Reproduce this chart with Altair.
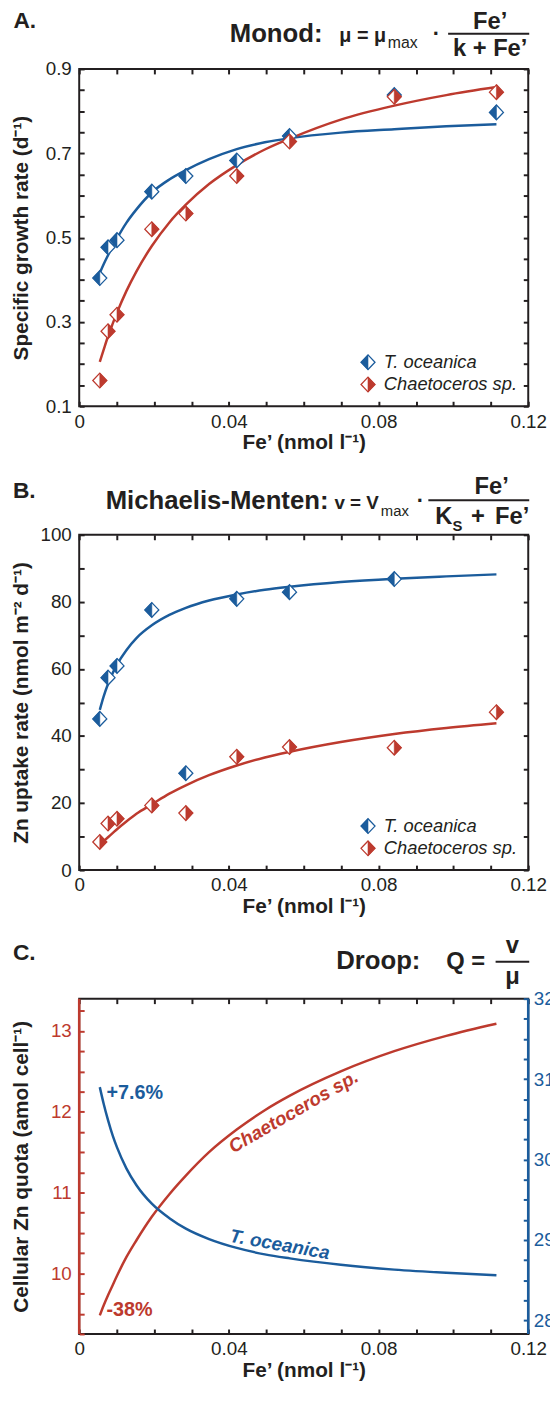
import altair as alt
import pandas as pd

FONT = "Liberation Sans"
INK = "#231f20"
BLUE = "#1b5c9c"
RED = "#bd3a2e"

W = 454
HA, HB, HC = 341, 339, 339
GAP = 130

SPECIES = ["T. oceanica", "Chaetoceros sp."]

# ---------------- data ----------------
# Fe' of the cultures (nmol l-1)
fe_pts = [0.0055, 0.0077, 0.0101, 0.0194, 0.0285, 0.0421, 0.0562, 0.0842, 0.1115]

# A. specific growth rate (d-1)
mu_toc = [0.404, 0.477, 0.494, 0.609, 0.646, 0.683, 0.741, 0.838, 0.797]
mu_cha = [0.161, 0.278, 0.317, 0.520, 0.557, 0.646, 0.728, 0.834, 0.845]

# B. Zn uptake rate (nmol m-2 d-1)
fe_pts_b_toc = [0.0055, 0.0077, 0.0101, 0.0194, 0.0285, 0.0421, 0.0562, 0.0842]
v_toc = [45.1, 57.4, 60.9, 77.6, 28.9, 80.9, 82.9, 86.8]
v_cha = [8.4, 13.9, 15.3, 19.3, 17.0, 33.8, 36.7, 36.5, 47.1]

# fitted curves, read along Fe'
fe_fit = [0.0055, 0.0065, 0.0077, 0.009, 0.0101, 0.0126, 0.0153, 0.0194, 0.0241,
          0.0285, 0.0347, 0.0421, 0.0496, 0.0563, 0.0699, 0.0842, 0.0981, 0.1115]
mu_fit_toc = [0.416, 0.436, 0.458, 0.480, 0.498, 0.535, 0.567, 0.607, 0.638,
              0.660, 0.686, 0.710, 0.726, 0.736, 0.749, 0.757, 0.764, 0.769]
mu_fit_cha = [0.205, 0.233, 0.266, 0.297, 0.322, 0.373, 0.420, 0.480, 0.536,
              0.578, 0.627, 0.672, 0.709, 0.735, 0.780, 0.813, 0.838, 0.857]
v_fit_toc = [47.8, 51.7, 55.5, 58.9, 61.3, 65.6, 69.2, 73.0, 76.1,
             78.2, 80.4, 82.2, 83.6, 84.5, 85.9, 86.9, 87.6, 88.2]
v_fit_cha = [7.6, 8.6, 9.8, 11.1, 12.2, 14.5, 16.8, 19.6, 22.8,
             25.3, 28.3, 31.2, 33.6, 35.3, 38.2, 40.6, 42.4, 43.8]
# C. Droop quota: Chaetoceros (left axis) and T. oceanica (right axis)
q_fit_cha = [9.48, 9.60, 9.73, 9.86, 9.97, 10.20, 10.41, 10.70, 10.98,
             11.21, 11.50, 11.78, 12.02, 12.20, 12.50, 12.75, 12.94, 13.09]
q_fit_toc = [30.90, 30.70, 30.49, 30.29, 30.15, 29.89, 29.68, 29.45, 29.27,
             29.14, 29.01, 28.90, 28.82, 28.77, 28.69, 28.63, 28.59, 28.56]

# tick values
x_ticks = [round(i * 0.01, 2) for i in range(13)]
a_ticks = [round(0.1 + 0.05 * i, 2) for i in range(17)]
b_ticks = [10 * i for i in range(11)]
c_left_ticks = [9.25 + 0.25 * i for i in range(17)]
c_right_ticks = [28 + 0.25 * i for i in range(17)]

X_LABELS = "round(datum.value * 100) % 4 === 0 ? datum.label : ''"
A_LABELS = "round(datum.value * 100) % 20 === 10 ? datum.label : ''"
B_LABELS = "datum.value % 20 === 0 ? datum.label : ''"
INT_LABELS = "datum.value % 1 === 0 ? datum.label : ''"

DIAMOND = "M0,-1.05L1,0L0,1.05L-1,0Z"
LEFT = "M0,-1.05L-1,0L0,1.05Z"
RIGHT = "M0,-1.05L1,0L0,1.05Z"
SIZE = 200

xscale = alt.Scale(domain=[0, 0.12], nice=False, zero=False)


def axis(orient, values, fmt, label_expr=None, labels=True, title=None, color=INK,
         label_padding=6, title_x=None, title_y=None, h=None):
    kw = dict(orient=orient, values=values, labels=labels, domain=False, grid=False,
              ticks=True, tickSize=5, tickWidth=2, tickColor=color, offset=-5,
              labelFont=FONT, labelFontSize=19, labelColor=color,
              labelPadding=label_padding, labelOverlap=False, labelFlush=False,
              format=fmt, title=title)
    if label_expr:
        kw["labelExpr"] = label_expr
    if title:
        kw.update(titleFont=FONT, titleFontSize=21, titleFontWeight="bold",
                  titleColor=INK, titleBaseline="alphabetic")
        if title_x is not None:
            kw.update(titleX=title_x, titleY=h / 2, titleAngle=270, titleAlign="center")
        if title_y is not None:
            kw.update(titleY=title_y)
    return alt.Axis(**kw)


def curve(vals, color, yscale, xaxis=None, yaxis=None):
    df = pd.DataFrame({"fe": fe_fit, "val": vals})
    return alt.Chart(df).mark_line(color=color, strokeWidth=2.5, interpolate="monotone").encode(
        x=alt.X("fe:Q", scale=xscale, axis=xaxis),
        y=alt.Y("val:Q", scale=yscale, axis=yaxis))


def points(fe, vals, color, half, yscale, xaxis=None, yaxis=None):
    df = pd.DataFrame({"fe": fe, "val": vals})
    base = alt.Chart(df)
    outline = base.mark_point(shape=DIAMOND, size=SIZE, filled=True, fill="white",
                              stroke=color, strokeWidth=1.3, opacity=1).encode(
        x=alt.X("fe:Q", scale=xscale, axis=xaxis),
        y=alt.Y("val:Q", scale=yscale, axis=yaxis))
    filled = base.mark_point(shape=half, size=SIZE, filled=True, fill=color,
                             stroke=color, strokeWidth=0.6, opacity=1).encode(
        x=alt.X("fe:Q", scale=xscale, axis=None),
        y=alt.Y("val:Q", scale=yscale, axis=None))
    return [outline, filled]


def legend(h):
    layers = []
    for sp, color, half, dy in zip(SPECIES, [BLUE, RED], [LEFT, RIGHT], [-44.5, -22]):
        b = alt.Chart(pd.DataFrame({"sp": [sp]}))
        layers.append(b.mark_point(shape=DIAMOND, size=SIZE, filled=True, fill="white",
                                   stroke=color, strokeWidth=1.3, opacity=1).encode(
            x=alt.value(292), y=alt.value(h + dy)))
        layers.append(b.mark_point(shape=half, size=SIZE, filled=True, fill=color,
                                   stroke=color, strokeWidth=0.6, opacity=1).encode(
            x=alt.value(292), y=alt.value(h + dy)))
        layers.append(b.mark_text(font=FONT, fontSize=18.5, fontStyle="italic", align="left",
                                  baseline="middle", color=INK).encode(
            x=alt.value(308), y=alt.value(h + dy), text="sp:N"))
    return layers


def txt(s, x, y, size, weight="bold", align="left", color=INK):
    return alt.Chart(pd.DataFrame({"t": [s]})).mark_text(
        font=FONT, fontSize=size, fontWeight=weight, align=align,
        baseline="alphabetic", color=color).encode(
        x=alt.value(x), y=alt.value(y), text="t:N")


def hbar(x1, x2, y):
    return alt.Chart(pd.DataFrame({"k": [0]})).mark_rule(color=INK, strokeWidth=2).encode(
        x=alt.value(x1), x2=alt.value(x2), y=alt.value(y))


def left_guide():
    # invisible guide fixing the room kept left of the plots
    return alt.Chart(pd.DataFrame({"k": [0]})).mark_rule(opacity=0, strokeWidth=0.01).encode(
        x=alt.value(-71), y=alt.value(100), y2=alt.value(110))


X_TITLE = "Fe’ (nmol l⁻¹)"

# ---------------- panel A ----------------
ya = alt.Scale(domain=[0.1, 0.9], nice=False, zero=False)
a_layers = [
    left_guide(),
    curve(mu_fit_toc, BLUE, ya,
          xaxis=axis("bottom", x_ticks, "~g", X_LABELS, title=X_TITLE, title_y=48),
          yaxis=axis("left", a_ticks, ".1f", A_LABELS, title="Specific growth rate (d⁻¹)",
                     label_padding=8, title_x=-57, h=HA)),
    curve(mu_fit_cha, RED, ya),
]
a_layers += points(fe_pts, mu_toc, BLUE, LEFT, ya,
                   xaxis=axis("top", x_ticks, "~g", labels=False),
                   yaxis=axis("right", a_ticks, ".1f", labels=False))
a_layers += points(fe_pts, mu_cha, RED, RIGHT, ya)
a_layers += legend(HA)
a_layers += [
    txt("A.", -66.5, -41, 23),
    txt("Monod:", 246, -27.5, 26, align="right"),
    txt("μ = μ", 263, -27.5, 20),
    txt("max", 312, -21, 16, weight="normal"),
    txt("·", 361, -28, 22, align="center"),
    hbar(373, 455, -35.6),
    txt("Fe’", 415.5, -40.5, 24, align="center"),
    txt("k + Fe’", 415.5, -13.6, 24, align="center"),
]
panel_a = alt.layer(*a_layers).resolve_axis(x="independent", y="independent").properties(
    width=W, height=HA)

# ---------------- panel B ----------------
yb = alt.Scale(domain=[0, 100], nice=False, zero=False)
b_layers = [
    left_guide(),
    curve(v_fit_toc, BLUE, yb,
          xaxis=axis("bottom", x_ticks, "~g", X_LABELS, title=X_TITLE, title_y=48),
          yaxis=axis("left", b_ticks, "d", B_LABELS, title="Zn uptake rate (nmol m⁻² d⁻¹)",
                     label_padding=8, title_x=-57, h=HB)),
    curve(v_fit_cha, RED, yb),
]
b_layers += points(fe_pts_b_toc, v_toc, BLUE, LEFT, yb,
                   xaxis=axis("top", x_ticks, "~g", labels=False),
                   yaxis=axis("right", b_ticks, "d", labels=False))
b_layers += points(fe_pts, v_cha, RED, RIGHT, yb)
b_layers += legend(HB)
b_layers += [
    txt("B.", -67, -37, 23),
    txt("Michaelis-Menten:", 252, -26.4, 26, align="right"),
    txt("v = V", 258, -26.4, 19),
    txt("max", 305, -19.5, 15, weight="normal"),
    txt("·", 345, -27.5, 22, align="center"),
    hbar(353, 455, -35),
    txt("Fe’", 417, -41, 24, align="center"),
    txt("K", 360, -10.5, 24),
    txt("S", 377.5, -3.5, 15),
    txt("+", 396, -10.5, 24),
    txt("Fe’", 455, -10.5, 24, align="right"),
]
panel_b = alt.layer(*b_layers).resolve_axis(x="independent", y="independent").properties(
    width=W, height=HB)

# ---------------- panel C ----------------
yc_left = alt.Scale(domain=[9.25, 13.4], nice=False, zero=False)
yc_right = alt.Scale(domain=[27.83, 32], nice=False, zero=False)


def ann(s, fe, q, yscale, color, size, angle=0, style="normal", align="center"):
    df = pd.DataFrame({"fe": [fe], "q": [q], "t": [s]})
    return alt.Chart(df).mark_text(font=FONT, fontSize=size, fontWeight="bold", fontStyle=style,
                                   align=align, baseline="middle", angle=angle, color=color).encode(
        x=alt.X("fe:Q", scale=xscale, axis=None),
        y=alt.Y("q:Q", scale=yscale, axis=None),
        text="t:N")


edge = pd.DataFrame({"k": [0]})
c_layers = [
    left_guide(),
    curve(q_fit_cha, RED, yc_left,
          xaxis=axis("bottom", x_ticks, "~g", X_LABELS, title=X_TITLE, title_y=48),
          yaxis=axis("left", c_left_ticks, "~g", INT_LABELS, color=RED,
                     title="Cellular Zn quota (amol cell⁻¹)", label_padding=8,
                     title_x=-57, h=HC)),
    curve(q_fit_toc, BLUE, yc_right,
          xaxis=axis("top", x_ticks, "~g", labels=False),
          yaxis=axis("right", c_right_ticks, "~g", INT_LABELS, color=BLUE, label_padding=5)),
    alt.Chart(edge).mark_rule(color=RED, strokeWidth=2.6).encode(
        x=alt.value(0), y=alt.value(0), y2=alt.value(HC)),
    alt.Chart(edge).mark_rule(color=BLUE, strokeWidth=2.6).encode(
        x=alt.value(W), y=alt.value(0), y2=alt.value(HC)),
    ann("Chaetoceros sp.", 0.0573, 12.0, yc_left, RED, 19, angle=330, style="italic"),
    ann("T. oceanica", 0.0536, 28.94, yc_right, BLUE, 19, angle=10, style="italic"),
    ann("+7.6%", 0.0073, 30.83, yc_right, BLUE, 20, align="left"),
    ann("-38%", 0.0073, 9.54, yc_left, RED, 20, align="left"),
    txt("C.", -67, -39.6, 23),
    txt("Droop:", 345, -29.8, 26, align="right"),
    txt("Q =", 371, -29.8, 24),
    hbar(421, 455, -37.3),
    txt("v", 438, -46, 24, align="center"),
    txt("μ", 438, -15, 24, align="center"),
]
panel_c = alt.layer(*c_layers).resolve_scale(y="independent").resolve_axis(
    x="independent", y="independent").properties(width=W, height=HC)

chart = alt.vconcat(panel_a, panel_b, panel_c, spacing=GAP, bounds="flush").properties(
    padding={"left": 0, "top": -7, "right": -6, "bottom": 0},
).configure(font=FONT).configure_view(stroke=INK, strokeWidth=2)

chart.save("out.html", embed_options={"renderer": "svg", "actions": False})
